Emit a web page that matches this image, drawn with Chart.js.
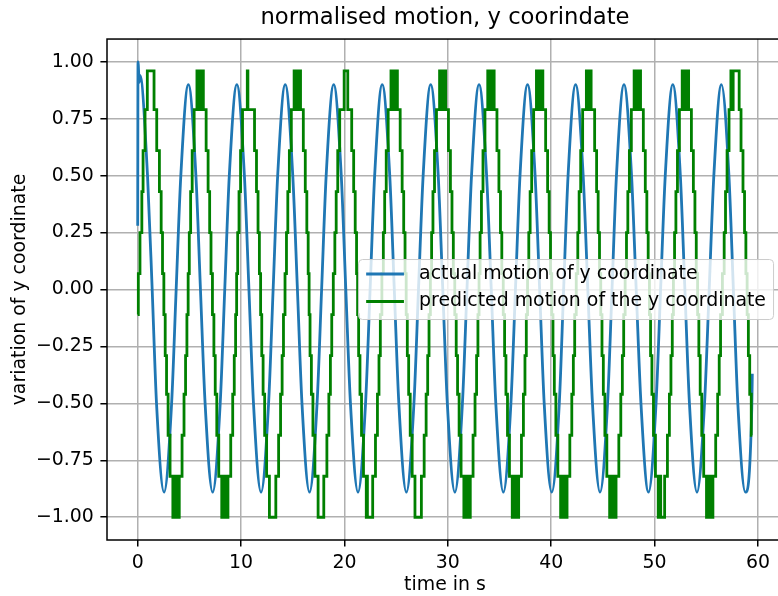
<!DOCTYPE html>
<html>
<head>
<meta charset="utf-8">
<script src="https://cdn.jsdelivr.net/npm/chart.js"></script>
<style>
  html, body { margin: 0; padding: 0; background: #fff; overflow: hidden; }
  canvas { display: block; }
</style>
</head>
<body>
<canvas id="chart" width="790" height="600"></canvas>
<script>
// actual y motion: [time in s, value] read at peaks, troughs and where it crosses the 0.5 / 0 / -0.5 grid lines
const actual = [
  [0.00, 0.28], [0.03, 1.00], [0.15, 0.91], [0.22, 0.94], [0.95, 0.50], [1.40, 0.00], [1.82, -0.50], [2.55, -0.89],
  [3.28, -0.50], [3.72, 0.00], [4.17, 0.50], [4.90, 0.90], [5.63, 0.50], [6.07, 0.00],
  [6.52, -0.50], [7.25, -0.89], [7.98, -0.50], [8.42, 0.00], [8.86, 0.50], [9.59, 0.90], [10.32, 0.50], [10.76, 0.00],
  [11.20, -0.50], [11.93, -0.89], [12.66, -0.50], [13.10, 0.00], [13.54, 0.50], [14.27, 0.90], [15.00, 0.50], [15.45, 0.00],
  [15.89, -0.50], [16.62, -0.89], [17.35, -0.50], [17.79, 0.00], [18.23, 0.50], [18.96, 0.90], [19.69, 0.50], [20.13, 0.00],
  [20.58, -0.50], [21.31, -0.89], [22.04, -0.50], [22.48, 0.00], [22.92, 0.50], [23.65, 0.90], [24.38, 0.50], [24.82, 0.00],
  [25.26, -0.50], [25.99, -0.89], [26.72, -0.50], [27.16, 0.00], [27.61, 0.50], [28.34, 0.90], [29.07, 0.50], [29.51, 0.00],
  [29.95, -0.50], [30.68, -0.89], [31.41, -0.50], [31.85, 0.00], [32.29, 0.50], [33.02, 0.90], [33.75, 0.50], [34.20, 0.00],
  [34.64, -0.50], [35.37, -0.89], [36.10, -0.50], [36.54, 0.00], [36.98, 0.50], [37.71, 0.90], [38.44, 0.50], [38.88, 0.00],
  [39.32, -0.50], [40.05, -0.89], [40.78, -0.50], [41.20, 0.00], [41.63, 0.50], [42.36, 0.90], [43.09, 0.50], [43.54, 0.00],
  [43.99, -0.50], [44.72, -0.89], [45.45, -0.50], [45.88, 0.00], [46.31, 0.50], [47.04, 0.90], [47.77, 0.50], [48.22, 0.00],
  [48.68, -0.50], [49.41, -0.89], [50.14, -0.50], [50.58, 0.00], [51.03, 0.50], [51.76, 0.90], [52.49, 0.50], [52.93, 0.00],
  [53.37, -0.50], [54.10, -0.89], [54.83, -0.50], [55.28, 0.00], [55.73, 0.50], [56.46, 0.90], [57.19, 0.50], [57.62, 0.00],
  [58.05, -0.50], [58.78, -0.89], [59.40, -0.52], [59.45, -0.37]
];

// predicted y motion: [time the value switches, new value]
const predicted = [
  [0.00, -0.11], [0.06, 0.07], [0.22, 0.25], [0.40, 0.43], [0.52, 0.61], [0.71, 0.79], [0.93, 0.96],
  [1.58, 0.79], [1.84, 0.61], [2.10, 0.43], [2.27, 0.25], [2.40, 0.07], [2.53, -0.11],
  [2.66, -0.29], [2.79, -0.46], [2.94, -0.64], [3.13, -0.82], [3.40, -1.00],
  [3.47, -0.82], [3.53, -1.00], [3.60, -0.82], [3.66, -1.00], [3.73, -0.82], [3.79, -1.00], [3.86, -0.82], [3.92, -1.00],
  [4.02, -0.82], [4.29, -0.64], [4.48, -0.46], [4.63, -0.29], [4.76, -0.11],
  [4.88, 0.07], [4.99, 0.25], [5.12, 0.43], [5.27, 0.61], [5.46, 0.79], [5.73, 0.96],
  [5.80, 0.79], [5.87, 0.96], [5.94, 0.79], [6.01, 0.96], [6.08, 0.79], [6.15, 0.96], [6.22, 0.79], [6.29, 0.96],
  [6.35, 0.79], [6.62, 0.61], [6.81, 0.43], [6.96, 0.25], [7.09, 0.07], [7.23, -0.11],
  [7.37, -0.29], [7.50, -0.46], [7.65, -0.64], [7.84, -0.82], [8.13, -1.00],
  [8.20, -0.82], [8.27, -1.00], [8.34, -0.82], [8.41, -1.00], [8.48, -0.82], [8.55, -1.00], [8.62, -0.82], [8.67, -1.00],
  [8.73, -0.82], [9.00, -0.64], [9.19, -0.46], [9.34, -0.29], [9.47, -0.11],
  [9.57, 0.07], [9.67, 0.25], [9.80, 0.43], [9.95, 0.61], [10.14, 0.79], [10.60, 0.96], [10.66, 0.79],
  [11.30, 0.61], [11.49, 0.43], [11.64, 0.25], [11.77, 0.07], [11.89, -0.11],
  [12.00, -0.29], [12.13, -0.46], [12.28, -0.64], [12.47, -0.82], [12.74, -1.00],
  [13.36, -0.82], [13.63, -0.64], [13.82, -0.46], [13.97, -0.29], [14.10, -0.11],
  [14.25, 0.07], [14.39, 0.25], [14.52, 0.43], [14.67, 0.61], [14.86, 0.79], [15.13, 0.96],
  [15.20, 0.79], [15.27, 0.96], [15.34, 0.79], [15.41, 0.96], [15.48, 0.79], [15.55, 0.96], [15.62, 0.79], [15.69, 0.96],
  [15.75, 0.79], [16.02, 0.61], [16.21, 0.43], [16.36, 0.25], [16.49, 0.07], [16.58, -0.11],
  [16.67, -0.29], [16.80, -0.46], [16.95, -0.64], [17.14, -0.82], [17.45, -1.00],
  [18.00, -0.82], [18.30, -0.64], [18.49, -0.46], [18.64, -0.29], [18.77, -0.11],
  [18.92, 0.07], [19.07, 0.25], [19.20, 0.43], [19.35, 0.61], [19.54, 0.79], [19.97, 0.96], [20.32, 0.79],
  [20.70, 0.61], [20.89, 0.43], [21.04, 0.25], [21.17, 0.07], [21.27, -0.11],
  [21.37, -0.29], [21.50, -0.46], [21.65, -0.64], [21.84, -0.82], [22.11, -1.00], [22.17, -0.82], [22.22, -1.00],
  [22.73, -0.82], [23.00, -0.64], [23.19, -0.46], [23.34, -0.29], [23.47, -0.11],
  [23.62, 0.07], [23.76, 0.25], [23.89, 0.43], [24.04, 0.61], [24.23, 0.79], [24.50, 0.96],
  [24.57, 0.79], [24.64, 0.96], [24.71, 0.79], [24.78, 0.96], [24.85, 0.79], [24.92, 0.96], [24.99, 0.79], [25.06, 0.96],
  [25.12, 0.79], [25.39, 0.61], [25.58, 0.43], [25.73, 0.25], [25.86, 0.07], [25.97, -0.11],
  [26.08, -0.29], [26.21, -0.46], [26.36, -0.64], [26.55, -0.82], [26.82, -1.00],
  [27.44, -0.82], [27.71, -0.64], [27.90, -0.46], [28.05, -0.29], [28.18, -0.11],
  [28.31, 0.07], [28.43, 0.25], [28.56, 0.43], [28.71, 0.61], [28.90, 0.79], [29.20, 0.96],
  [29.27, 0.79], [29.34, 0.96], [29.41, 0.79], [29.48, 0.96], [29.55, 0.79], [29.62, 0.96],
  [29.79, 0.79], [30.06, 0.61], [30.25, 0.43], [30.40, 0.25], [30.53, 0.07], [30.67, -0.11],
  [30.81, -0.29], [30.94, -0.46], [31.09, -0.64], [31.28, -0.82], [31.55, -1.00],
  [31.62, -0.82], [31.69, -1.00], [31.76, -0.82], [31.83, -1.00], [31.90, -0.82], [31.97, -1.00], [32.04, -0.82], [32.11, -1.00],
  [32.17, -0.82], [32.44, -0.64], [32.63, -0.46], [32.78, -0.29], [32.91, -0.11],
  [33.02, 0.07], [33.12, 0.25], [33.25, 0.43], [33.40, 0.61], [33.59, 0.79], [33.86, 0.96],
  [33.93, 0.79], [34.00, 0.96], [34.07, 0.79], [34.14, 0.96], [34.21, 0.79], [34.28, 0.96], [34.35, 0.79], [34.42, 0.96],
  [34.48, 0.79], [34.75, 0.61], [34.94, 0.43], [35.09, 0.25], [35.22, 0.07], [35.36, -0.11],
  [35.49, -0.29], [35.62, -0.46], [35.77, -0.64], [35.96, -0.82], [36.23, -1.00],
  [36.30, -0.82], [36.37, -1.00], [36.44, -0.82], [36.51, -1.00], [36.58, -0.82], [36.65, -1.00], [36.72, -0.82], [36.79, -1.00],
  [36.85, -0.82], [37.12, -0.64], [37.31, -0.46], [37.46, -0.29], [37.59, -0.11],
  [37.71, 0.07], [37.83, 0.25], [37.96, 0.43], [38.11, 0.61], [38.30, 0.79], [38.57, 0.96],
  [38.64, 0.79], [38.71, 0.96], [38.78, 0.79], [38.85, 0.96], [38.92, 0.79], [38.99, 0.96], [39.06, 0.79], [39.13, 0.96],
  [39.19, 0.79], [39.46, 0.61], [39.65, 0.43], [39.80, 0.25], [39.93, 0.07], [40.05, -0.11],
  [40.17, -0.29], [40.30, -0.46], [40.45, -0.64], [40.64, -0.82], [40.91, -1.00],
  [40.98, -0.82], [41.05, -1.00], [41.12, -0.82], [41.19, -1.00], [41.26, -0.82], [41.33, -1.00], [41.40, -0.82], [41.47, -1.00],
  [41.53, -0.82], [41.80, -0.64], [41.99, -0.46], [42.14, -0.29], [42.27, -0.11],
  [42.42, 0.07], [42.57, 0.25], [42.70, 0.43], [42.85, 0.61], [43.04, 0.79],
  [43.40, 0.96], [43.47, 0.79], [43.54, 0.96], [43.61, 0.79], [43.68, 0.96], [43.75, 0.79], [43.80, 0.96],
  [43.86, 0.79], [44.20, 0.61], [44.39, 0.43], [44.54, 0.25], [44.67, 0.07], [44.79, -0.11],
  [44.91, -0.29], [45.04, -0.46], [45.19, -0.64], [45.38, -0.82], [45.65, -1.00],
  [45.72, -0.82], [45.79, -1.00], [45.86, -0.82], [45.93, -1.00], [46.00, -0.82], [46.07, -1.00], [46.14, -0.82], [46.21, -1.00],
  [46.27, -0.82], [46.54, -0.64], [46.73, -0.46], [46.88, -0.29], [47.01, -0.11],
  [47.15, 0.07], [47.28, 0.25], [47.41, 0.43], [47.56, 0.61], [47.75, 0.79], [48.02, 0.96],
  [48.09, 0.79], [48.16, 0.96], [48.23, 0.79], [48.30, 0.96], [48.37, 0.79], [48.44, 0.96], [48.51, 0.79], [48.58, 0.96],
  [48.64, 0.79], [48.91, 0.61], [49.10, 0.43], [49.25, 0.25], [49.38, 0.07], [49.50, -0.11],
  [49.61, -0.29], [49.74, -0.46], [49.89, -0.64], [50.08, -0.82], [50.35, -1.00],
  [50.41, -0.82], [50.47, -1.00], [50.53, -0.82], [50.59, -1.00],
  [50.97, -0.82], [51.24, -0.64], [51.43, -0.46], [51.58, -0.29], [51.71, -0.11],
  [51.82, 0.07], [51.93, 0.25], [52.06, 0.43], [52.21, 0.61], [52.40, 0.79], [52.67, 0.96],
  [52.74, 0.79], [52.81, 0.96], [52.88, 0.79], [52.95, 0.96], [53.02, 0.79], [53.09, 0.96], [53.16, 0.79], [53.23, 0.96],
  [53.29, 0.79], [53.56, 0.61], [53.75, 0.43], [53.90, 0.25], [54.03, 0.07], [54.16, -0.11],
  [54.28, -0.29], [54.41, -0.46], [54.56, -0.64], [54.75, -0.82], [55.02, -1.00],
  [55.09, -0.82], [55.16, -1.00], [55.23, -0.82], [55.30, -1.00], [55.37, -0.82], [55.44, -1.00], [55.51, -0.82], [55.58, -1.00],
  [55.64, -0.82], [55.91, -0.64], [56.10, -0.46], [56.25, -0.29], [56.38, -0.11],
  [56.56, 0.07], [56.73, 0.25], [56.86, 0.43], [57.01, 0.61], [57.20, 0.79], [57.38, 0.96], [57.55, 0.79], [57.60, 0.96],
  [58.18, 0.79], [58.36, 0.61], [58.55, 0.43], [58.70, 0.25], [58.83, 0.07], [58.95, -0.11],
  [59.07, -0.29], [59.20, -0.46], [59.35, -0.64], [59.45, -0.64]
];

const xTicks = [0, 10, 20, 30, 40, 50, 60];
const yTicks = [-1.00, -0.75, -0.50, -0.25, 0.00, 0.25, 0.50, 0.75, 1.00];
const yTickLabels = ['\u22121.00', '\u22120.75', '\u22120.50', '\u22120.25', '0.00', '0.25', '0.50', '0.75', '1.00'];

const FS = 18.9;
const FONT = 'DejaVu Sans';
Chart.defaults.font.family = FONT;
Chart.defaults.color = '#000';

// frame round the axes + legend box at the right
const frameAndLegend = {
  id: 'frameAndLegend',
  afterDatasetsDraw(chart) {
    const ctx = chart.ctx;
    const a = chart.chartArea;
    ctx.save();
    ctx.strokeStyle = '#000';
    ctx.lineWidth = 1.5;
    ctx.strokeRect(a.left, a.top, a.right - a.left, a.bottom - a.top);

    ctx.font = FS + 'px "' + FONT + '"';
    const sets = chart.data.datasets;
    const tw = Math.max(...sets.map(d => ctx.measureText(d.label).width));
    const w = 3.6 * FS + tw;
    const h = 60;
    const x1 = a.right - 0.5 * FS - w;
    const y1 = (a.top + a.bottom) / 2 - h / 2;
    const r = 4;
    ctx.beginPath();
    ctx.moveTo(x1 + r, y1);
    ctx.lineTo(x1 + w - r, y1);
    ctx.quadraticCurveTo(x1 + w, y1, x1 + w, y1 + r);
    ctx.lineTo(x1 + w, y1 + h - r);
    ctx.quadraticCurveTo(x1 + w, y1 + h, x1 + w - r, y1 + h);
    ctx.lineTo(x1 + r, y1 + h);
    ctx.quadraticCurveTo(x1, y1 + h, x1, y1 + h - r);
    ctx.lineTo(x1, y1 + r);
    ctx.quadraticCurveTo(x1, y1, x1 + r, y1);
    ctx.closePath();
    ctx.fillStyle = 'rgba(255,255,255,0.8)';
    ctx.fill();
    ctx.strokeStyle = '#cccccc';
    ctx.lineWidth = 1;
    ctx.stroke();

    const rows = [y1 + 14.5, y1 + 42];
    sets.forEach((d, i) => {
      ctx.strokeStyle = d.borderColor;
      ctx.lineWidth = 2.8;
      ctx.beginPath();
      ctx.moveTo(x1 + 0.4 * FS, rows[i]);
      ctx.lineTo(x1 + 2.4 * FS, rows[i]);
      ctx.stroke();
      ctx.fillStyle = '#000';
      ctx.textBaseline = 'middle';
      ctx.textAlign = 'left';
      ctx.fillText(d.label, x1 + 3.2 * FS, rows[i]);
    });
    ctx.restore();
  }
};

new Chart(document.getElementById('chart'), {
  type: 'line',
  data: {
    datasets: [
      {
        label: 'actual motion of y coordinate',
        data: actual.map(([x, y]) => ({ x, y })),
        borderColor: '#1f77b4',
        borderWidth: 2.8,
        pointRadius: 0,
        cubicInterpolationMode: 'monotone',
        tension: 0.4,
        fill: false,
        order: 2
      },
      {
        label: 'predicted motion of the y coordinate',
        data: predicted.map(([x, y]) => ({ x, y })),
        borderColor: '#008000',
        borderWidth: 2.8,
        pointRadius: 0,
        stepped: true,
        fill: false,
        order: 1
      }
    ]
  },
  options: {
    responsive: false,
    animation: false,
    events: [],
    layout: { padding: { left: 0, right: 7, top: 0, bottom: 0 } },
    plugins: {
      legend: { display: false },
      tooltip: { enabled: false },
      title: {
        display: true,
        fullSize: false,
        text: 'normalised motion, y coorindate',
        color: '#000',
        font: { family: FONT, size: 22.7, weight: 'normal', lineHeight: 1.2 },
        padding: { top: 4.4, bottom: 7.4 }
      }
    },
    scales: {
      x: {
        type: 'linear',
        min: -2.97,
        max: 62.42,
        afterBuildTicks: s => { s.ticks = xTicks.map(v => ({ value: v })); },
        afterFit: s => { s.height = 60; },
        ticks: {
          color: '#000',
          font: { size: FS, lineHeight: 1.0 },
          padding: 6.6,
          maxRotation: 0,
          autoSkip: false,
          callback: v => String(v)
        },
        grid: { color: '#b0b0b0', lineWidth: 1.5, tickLength: 6.6, tickColor: '#000', tickWidth: 1.5 },
        border: { display: false },
        title: {
          display: true,
          text: 'time in s',
          color: '#000',
          font: { size: FS, lineHeight: 1.2 },
          padding: { top: 0, bottom: 3.4 }
        }
      },
      y: {
        type: 'linear',
        min: -1.1,
        max: 1.1,
        afterBuildTicks: s => { s.ticks = yTicks.map(v => ({ value: v })); },
        afterFit: s => { s.width = 107; },
        ticks: {
          color: '#000',
          font: { size: FS },
          padding: 6.6,
          autoSkip: false,
          callback: (v, i) => yTickLabels[i]
        },
        grid: { color: '#b0b0b0', lineWidth: 1.5, tickLength: 6.6, tickColor: '#000', tickWidth: 1.5 },
        border: { display: false },
        title: {
          display: true,
          text: 'variation of y coordinate',
          color: '#000',
          font: { size: FS, lineHeight: 1.2 },
          padding: { top: 9, bottom: 0 }
        }
      }
    }
  },
  plugins: [frameAndLegend]
});
</script>
</body>
</html>
